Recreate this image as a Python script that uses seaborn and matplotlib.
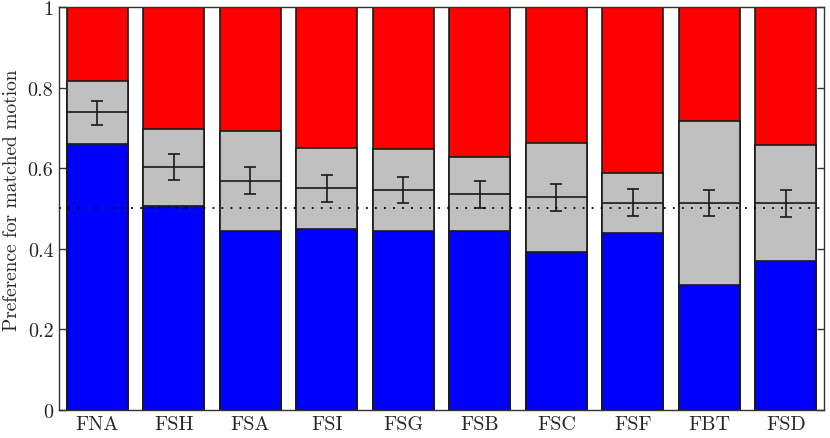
"""
Preference for matched motion - stacked bar chart with mean +/- error
"""
import numpy as np
import matplotlib
matplotlib.use("Agg")
import matplotlib.pyplot as plt
import seaborn as sns

labels = ["FNA", "FSH", "FSA", "FSI", "FSG", "FSB", "FSC", "FSF", "FBT", "FSD"]
# cumulative heights of each stacked segment
blue_top = [0.660, 0.507, 0.444, 0.448, 0.443, 0.443, 0.392, 0.440, 0.309, 0.369]
gray_top = [0.816, 0.698, 0.692, 0.649, 0.648, 0.627, 0.663, 0.588, 0.717, 0.658]
red_top = [1.0] * 10
means = [0.739, 0.603, 0.568, 0.550, 0.546, 0.536, 0.528, 0.514, 0.514, 0.514]
err_lo = [0.708, 0.570, 0.535, 0.516, 0.513, 0.502, 0.494, 0.481, 0.481, 0.480]
err_hi = [0.767, 0.635, 0.602, 0.582, 0.579, 0.569, 0.561, 0.548, 0.547, 0.547]
yticks = [0, 0.2, 0.4, 0.6, 0.8, 1]
ytick_labels = ["0", "0.2", "0.4", "0.6", "0.8", "1"]

sns.set_style("ticks")
plt.rcParams["font.family"] = ["cmr10", "DejaVu Serif"]
plt.rcParams["axes.formatter.use_mathtext"] = True

fig = plt.figure(figsize=(8.3, 4.39), dpi=100)
ax = fig.add_axes([0.0711, 0.0638, 0.9217, 0.918])

edge = "#1a1a1a"
for vals, col in [(red_top, "#ff0000"), (gray_top, "#c0c0c0"), (blue_top, "#0000ff")]:
    sns.barplot(x=labels, y=vals, color=col, saturation=1, width=0.8,
                edgecolor=edge, linewidth=1.2, ax=ax, zorder=2)

x = np.arange(len(labels))
ax.hlines(means, x - 0.4, x + 0.4, color=edge, linewidth=1.2, zorder=3)
yerr = [np.array(means) - np.array(err_lo), np.array(err_hi) - np.array(means)]
ax.errorbar(x, means, yerr=yerr, fmt="none", ecolor=edge, elinewidth=1.2,
            capsize=4.3, capthick=1.2, zorder=4)
ax.axhline(0.5, color="black", linestyle=(0, (1, 4)), linewidth=1.3, zorder=5)

ax.set_xlim(-0.5, len(labels) - 0.5)
ax.set_ylim(0, 1)
ax.set_yticks(yticks)
ax.set_yticklabels(ytick_labels)
ax.set_xlabel("")
ax.set_ylabel("Preference for matched motion", fontsize=14)
ax.yaxis.set_label_coords(-0.050, 0.524)
ax.tick_params(direction="in", top=True, right=True, length=5, width=1,
               color="#333333", labelsize=14.5, pad=4)
for s in ax.spines.values():
    s.set_color("#333333")
    s.set_linewidth(1)

plt.savefig("out.png", dpi=100)
plt.close()
